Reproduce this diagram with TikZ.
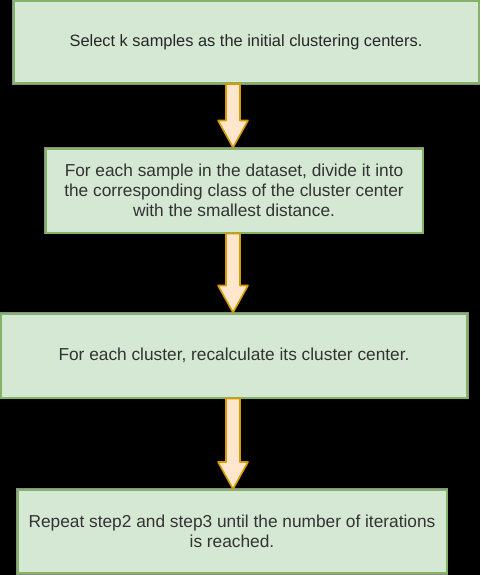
\documentclass[tikz,border=0pt]{standalone}
\usepackage{fontspec}
\setmainfont{Liberation Sans}
\usetikzlibrary{calc}
\definecolor{boxfill}{HTML}{D5E8D4}
\definecolor{boxline}{HTML}{82B366}
\definecolor{arrfill}{HTML}{FFE6CC}
\definecolor{arrline}{HTML}{D79B00}
\definecolor{txt}{HTML}{333333}
\definecolor{rim}{HTML}{8C8C8C}
\tikzset{
  stepbox/.style={draw=boxline, fill=boxfill, line width=2pt,
    preaction={draw=rim, line width=3.5pt},
    text=txt, font=\fontsize{17.3}{20}\selectfont, align=center,
    inner sep=0pt},
  barrow/.style={draw=arrline, fill=arrfill, line width=1.6pt, line join=round}
}
\newcommand\blockarrow[2]{\draw[barrow] let \p1=(#1), \p2=(#2) in
  (\x1-7pt,\y1) -- (\x1+7pt,\y1) -- (\x1+7pt,\y2+27pt) -- (\x1+15pt,\y2+27pt)
  -- (\x1,\y2) -- (\x1-15pt,\y2+27pt) -- (\x1-7pt,\y2+27pt) -- cycle;}
\begin{document}
\begin{tikzpicture}[x=1pt,y=-1pt]
\fill[black] (0,0) rectangle (480,575);
\useasboundingbox (0,0) rectangle (480,575);
\node[stepbox, minimum width=465pt, minimum height=82pt,
  font=\fontsize{16.4}{20}\selectfont, text={black!85}] (b1) at (246,42)
  {Select k samples as the initial clustering centers.};
\node[stepbox, minimum width=377pt, minimum height=84pt] (b2) at (234,190.5)
  {For each sample in the dataset, divide it into\\the corresponding class of the cluster center\\with the smallest distance.};
\node[stepbox, minimum width=466pt, minimum height=84pt] (b3) at (234,355.5)
  {For each cluster, recalculate its cluster center.};
\node[stepbox, minimum width=429pt, minimum height=83pt] (b4) at (232,531.5)
  {Repeat step2 and step3 until the number of iterations\\is reached.};
\coordinate (ax) at (233,0);
\coordinate (a1s) at (b1.south -| ax);
\coordinate (a1e) at (b2.north -| ax);
\coordinate (a2s) at (b2.south -| ax);
\coordinate (a2e) at (b3.north -| ax);
\coordinate (a3s) at (b3.south -| ax);
\coordinate (a3e) at (b4.north -| ax);
\blockarrow{a1s}{a1e}
\blockarrow{a2s}{a2e}
\blockarrow{a3s}{a3e}
\end{tikzpicture}
\end{document}
